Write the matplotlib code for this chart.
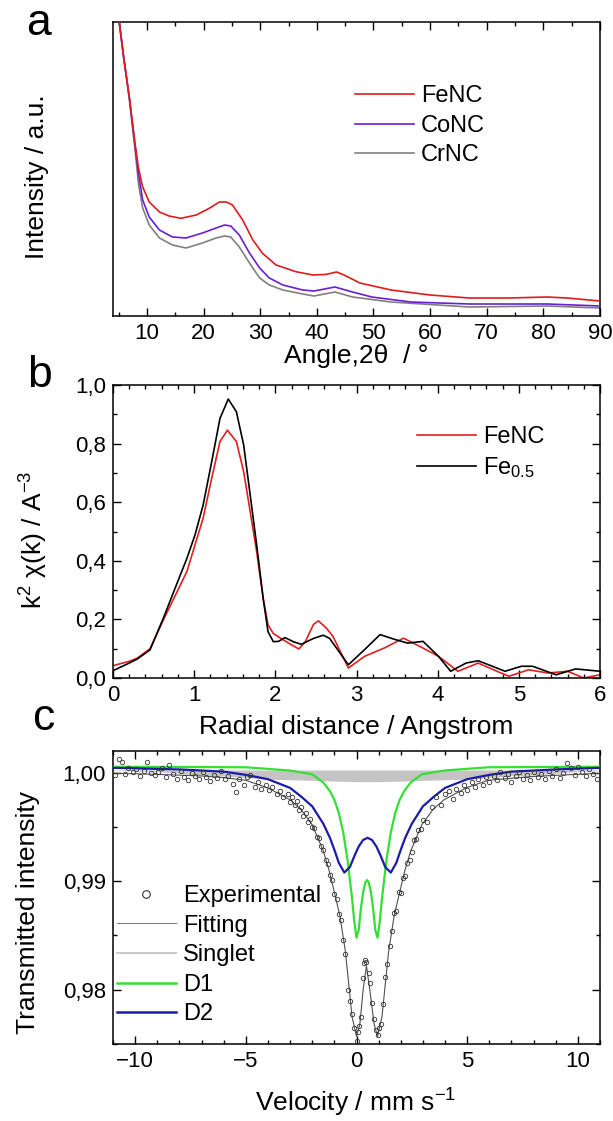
import numpy as np
import matplotlib
matplotlib.use('Agg')
import matplotlib.pyplot as plt
from matplotlib.lines import Line2D
from matplotlib.ticker import MultipleLocator, FixedLocator, FixedFormatter

plt.rcParams['font.family'] = ['Liberation Sans', 'DejaVu Sans']
plt.rcParams['mathtext.fontset'] = 'custom'
plt.rcParams['mathtext.rm'] = 'Liberation Sans'
plt.rcParams['mathtext.it'] = 'Liberation Sans:italic'

# ---- panel a: XRD (intensity in arbitrary units) ----
xrd_fe_angle = [4.5, 5.1, 5.9, 6.9, 7.9, 8.5, 9.24, 10.4, 12.2, 13.9, 16.0, 18.7, 21.0, 22.8, 24.0,
                25.1, 26.9, 28.7, 30.4, 32.8, 36.3, 39.3, 41.5, 43.5, 44.8, 47.6, 53.1, 60.0, 66.9,
                73.8, 80.7, 84.2, 90.0]
xrd_fe_int = [330, 294, 258, 218, 172, 148, 129, 114, 104, 100, 97.7, 101, 107.7, 114, 114,
              111, 96, 76, 62.7, 51, 44.3, 41, 41.5, 44, 41, 33, 26, 21, 18,
              18, 19, 18, 15]
xrd_co_angle = [4.5, 5.1, 5.9, 6.9, 7.9, 8.5, 9.24, 10.4, 12.2, 14.5, 16.9, 19.8, 22.2, 23.7, 24.8,
                26.3, 28.1, 29.9, 31.6, 34.0, 37.5, 39.5, 43.2, 46.3, 49.7, 56.6, 66.9, 80.7, 90.0]
xrd_co_int = [330, 294, 258, 218, 170, 142, 116, 99, 86, 79, 78, 83, 88, 91, 90,
              81, 63, 48, 38, 31, 26, 25, 29, 24, 19, 14, 12, 12, 10]
xrd_cr_angle = [4.5, 5.1, 5.9, 6.9, 7.9, 8.5, 9.24, 10.4, 12.2, 14.5, 16.9, 19.8, 22.2, 23.7, 24.8,
                26.3, 28.1, 29.9, 31.6, 34.0, 37.5, 39.5, 43.2, 46.3, 53.1, 66.9, 80.7, 90.0]
xrd_cr_int = [330, 294, 258, 216, 166, 132, 108, 91, 78, 71, 68, 73, 78, 80, 79,
              69, 53, 38, 31, 26, 22, 20, 24, 19, 14, 9, 10, 8]

# ---- panel b: EXAFS ----
exafs_fe_r = [0.0, 0.2, 0.3, 0.456, 0.62, 0.78, 0.91, 1.01, 1.11, 1.216, 1.318, 1.41, 1.52, 1.61,
              1.69, 1.77, 1.85, 1.91, 1.975, 2.08, 2.2, 2.29, 2.37, 2.47, 2.53, 2.63, 2.71, 2.9,
              3.1, 3.34, 3.58, 3.82, 4.01, 4.25, 4.5, 4.78, 4.88, 5.12, 5.36, 5.6, 5.8, 6.0]
exafs_fe_k2 = [0.042, 0.057, 0.068, 0.100, 0.198, 0.289, 0.363, 0.454, 0.545, 0.682, 0.807, 0.846,
               0.807, 0.704, 0.568, 0.431, 0.272, 0.181, 0.152, 0.133, 0.113, 0.099, 0.124, 0.183,
               0.195, 0.170, 0.142, 0.034, 0.074, 0.102, 0.136, 0.102, 0.074, 0.023, 0.051, 0.017,
               0.006, 0.028, 0.017, 0.023, 0.0, 0.011]
exafs_ref_r = [0.0, 0.2, 0.3, 0.456, 0.62, 0.78, 0.91, 1.01, 1.11, 1.216, 1.318, 1.42, 1.52, 1.61,
               1.69, 1.77, 1.85, 1.91, 1.975, 2.04, 2.12, 2.22, 2.32, 2.47, 2.59, 2.67, 2.71, 2.9,
               3.1, 3.29, 3.48, 3.63, 3.82, 4.01, 4.16, 4.35, 4.5, 4.83, 5.03, 5.17, 5.46, 5.7, 6.0]
exafs_ref_k2 = [0.025, 0.051, 0.065, 0.096, 0.204, 0.317, 0.408, 0.488, 0.590, 0.738, 0.886, 0.952,
                0.909, 0.795, 0.625, 0.454, 0.272, 0.158, 0.124, 0.125, 0.138, 0.124, 0.115, 0.135,
                0.146, 0.135, 0.119, 0.045, 0.097, 0.148, 0.131, 0.119, 0.125, 0.074, 0.023, 0.051,
                0.059, 0.023, 0.040, 0.040, 0.011, 0.031, 0.023]

# ---- panel c: Moessbauer ----
exp_v = [-10.9, -10.75, -10.6, -10.45, -10.3, -10.1, -9.95, -9.8, -9.6, -9.45, -9.3, -9.1, -8.95, -8.8,
         -8.6, -8.45, -8.3, -8.1, -7.95, -7.8, -7.6, -7.45, -7.3, -7.1, -6.95, -6.8, -6.6, -6.45, -6.3,
         -6.1, -5.95, -5.8, -5.6, -5.45, -5.3, -5.1, -4.95, -4.8, -4.6, -4.45, -4.3, -4.1, -3.95, -3.8,
         -3.6, -3.45, -3.3, -3.1,
         -3.0, -2.9, -2.8, -2.7, -2.6, -2.5, -2.4, -2.3, -2.2, -2.1, -2.0, -1.9, -1.8, -1.7, -1.6,
         -1.5, -1.4, -1.3, -1.2, -1.1, -1.0, -0.9, -0.8, -0.7, -0.6, -0.5, -0.4, -0.3, -0.2, -0.1,
         0.0, 0.05, 0.1, 0.2, 0.3, 0.35, 0.4, 0.45, 0.55, 0.6, 0.7, 0.8, 0.9, 0.95, 1.0, 1.1, 1.2,
         1.3, 1.4, 1.5, 1.6, 1.7, 1.8, 1.9, 2.0, 2.1, 2.2, 2.3, 2.4, 2.5, 2.6, 2.7, 2.8, 2.9, 3.0,
         3.2, 3.4, 3.6, 3.8, 4.0,
         4.2, 4.35, 4.5, 4.7, 4.85, 5.0, 5.2, 5.35, 5.5, 5.7, 5.85, 6.0, 6.2, 6.35, 6.5, 6.7, 6.85,
         7.0, 7.2, 7.35, 7.5, 7.7, 7.85, 8.0, 8.2, 8.35, 8.5, 8.7, 8.85, 9.0, 9.2, 9.35, 9.5, 9.7,
         9.85, 10.0, 10.2, 10.35, 10.5, 10.7, 10.85]
exp_t = [0.9998, 1.0013, 1.0010, 0.9999, 1.0004, 1.0001, 1.0003, 0.9997, 1.0002, 1.0010, 1.0000,
         0.9998, 1.0001, 1.0004, 0.9996, 1.0007, 0.9999, 0.9994, 1.0002, 0.9996, 0.9993, 1.0000,
         0.9997, 0.9994, 1.0001, 0.9996, 0.9992, 0.9998, 0.9995, 1.0002, 0.9994, 0.9997, 0.9990,
         0.9982, 0.9994, 0.9989, 0.9996, 0.9998, 0.9987, 0.9991, 0.9985, 0.9989, 0.9984, 0.9987,
         0.9980, 0.9983, 0.9978, 0.9980,
         0.9973, 0.9978, 0.9970, 0.9974, 0.9966, 0.9968, 0.9960, 0.9963, 0.9955, 0.9957, 0.9950,
         0.9949, 0.9941, 0.9940, 0.9932, 0.9929, 0.9920, 0.9916, 0.9906, 0.9901, 0.9888, 0.9884,
         0.9870, 0.9864, 0.9846, 0.9833, 0.9800, 0.9790, 0.9778, 0.9765,
         0.9753, 0.9761, 0.9767, 0.9775, 0.9811, 0.9825, 0.9827, 0.9826, 0.9815, 0.9806, 0.9788,
         0.9773, 0.9763, 0.9758, 0.9765, 0.9768, 0.9787,
         0.9812, 0.9824, 0.9840, 0.9854, 0.9871, 0.9873, 0.9890, 0.9889, 0.9903, 0.9905, 0.9917,
         0.9920, 0.9927, 0.9938, 0.9939, 0.9947, 0.9948, 0.9956,
         0.9955, 0.9968, 0.9978, 0.9970, 0.9980,
         0.9983, 0.9976, 0.9985, 0.9981, 0.9989, 0.9984, 0.9991, 0.9987, 0.9994, 0.9989, 0.9996,
         0.9991, 0.9997, 0.9993, 1.0001, 0.9995, 0.9999, 0.9991, 0.9997, 1.0001, 0.9994, 0.9998,
         0.9993, 1.0001, 0.9996, 0.9999, 0.9994, 1.0002, 0.9997, 1.0003, 0.9995, 1.0000, 1.0009,
         1.0004, 0.9998, 1.0005, 1.0001, 0.9997, 1.0003, 0.9999, 0.9994]

fit_v = [-11, -9, -7, -6, -5, -4, -3, -2.5, -2, -1.5, -1.25, -1.0, -0.75, -0.5, -0.35, -0.2, 0.0,
         0.15, 0.3, 0.45, 0.6, 0.8, 0.95, 1.15, 1.3, 1.45, 1.7, 1.95, 2.2, 2.45, 2.95, 3.45, 3.95,
         4.95, 5.95, 7.95, 9.95, 11]
fit_t = [0.99995, 0.99985, 0.9997, 0.99955, 0.9993, 0.9986, 0.9975, 0.9966, 0.9952, 0.9928, 0.9911,
         0.9890, 0.9868, 0.9835, 0.9805, 0.9775, 0.9757, 0.9768, 0.9800, 0.9822, 0.9800, 0.9768,
         0.9757, 0.9775, 0.9805, 0.9835, 0.9868, 0.9890, 0.9911, 0.9928, 0.9952, 0.9966, 0.9975,
         0.9986, 0.9993, 0.99965, 0.99985, 0.99995]

d1_v = [-11, -5, -3, -2, -1.5, -1.2, -1.0, -0.8, -0.6, -0.4, -0.2, -0.1, 0.0, 0.1, 0.2, 0.3, 0.4,
        0.475, 0.55, 0.65, 0.75, 0.85, 0.95, 1.05, 1.15, 1.35, 1.55, 1.75, 1.95, 2.15, 2.45, 2.95,
        3.95, 5.95, 11]
d1_t = [1.00055, 1.0005, 1.0002, 0.99985, 0.9991, 0.9983, 0.9975, 0.9963, 0.9945, 0.9919, 0.9884,
        0.9863, 0.9848, 0.9855, 0.9875, 0.9890, 0.9899, 0.9901, 0.9899, 0.9890, 0.9875, 0.9855,
        0.9848, 0.9863, 0.9884, 0.9919, 0.9945, 0.9963, 0.9975, 0.9983, 0.9991, 0.99985, 1.0002,
        1.0005, 1.00055]

d2_v = [-11, -8, -6, -5, -4, -3, -2.5, -2, -1.5, -1.2, -1.0, -0.8, -0.55, -0.3, -0.1, 0.1, 0.3,
        0.5, 0.7, 0.9, 1.1, 1.3, 1.55, 1.8, 2.0, 2.2, 2.5, 3.0, 3.5, 4.0, 5.0, 6.0, 7.0, 9.0, 11]
d2_t = [1.00045, 1.0003, 1.0001, 0.9998, 0.9994, 0.9986, 0.9978, 0.9969, 0.9953, 0.9940, 0.9929,
        0.9917, 0.9908, 0.9913, 0.9923, 0.9932, 0.9938, 0.9940, 0.9938, 0.9932, 0.9923, 0.9913,
        0.9908, 0.9917, 0.9929, 0.9940, 0.9953, 0.9969, 0.9978, 0.9986, 0.9994, 0.9998, 1.0001,
        1.0003, 1.00045]

singlet_v = [-11, -9, -7, -6, -5, -4, -3, -2, -1, 0, 0.5, 1, 2, 3, 4, 5, 6, 7, 8, 10, 11]
singlet_t = [1.0002, 1.0001, 0.9998, 0.9997, 0.99955, 0.9994, 0.99935, 0.9993, 0.99922, 0.99918,
             0.99917, 0.99918, 0.99922, 0.9993, 0.99935, 0.9994, 0.99955, 0.9997, 0.9998, 1.0001,
             1.0002]
singlet_top = 1.00025

W, H = 613, 1121
TICK_FS = 16
LABEL_FS = 19
LEG_FS = 17


def px_axes(fig, left, top, right, bottom):
    return fig.add_axes([left / W, 1 - bottom / H, (right - left) / W, (bottom - top) / H])


def px_text(fig, x, y, s, **kw):
    fig.text(x / W, 1 - y / H, s, **kw)


def style_axes(ax, left_right=True):
    for sp in ax.spines.values():
        sp.set_linewidth(1.1)
    ax.tick_params(which='both', direction='in', top=True, right=left_right, left=left_right,
                   labelsize=TICK_FS, width=1.0, pad=5)
    ax.tick_params(which='major', length=6)
    ax.tick_params(which='minor', length=3)


def add_legend(ax, handles, labels, anchor):
    ax.legend(handles, labels, loc='upper left', bbox_to_anchor=anchor, frameon=False,
              fontsize=LEG_FS, handlelength=2.5, handletextpad=0.3, labelspacing=0.32,
              borderpad=0, borderaxespad=0)


fig = plt.figure(figsize=(W / 100, H / 100), dpi=100)

# panel a
ax_a = px_axes(fig, 113, 22, 600, 316)
ax_a.plot(xrd_cr_angle, xrd_cr_int, color='#808080', lw=1.2, zorder=2)
ax_a.plot(xrd_co_angle, xrd_co_int, color='#6a1fd6', lw=1.2, zorder=3)
ax_a.plot(xrd_fe_angle, xrd_fe_int, color='#e01b1b', lw=1.2, zorder=4)
ax_a.set_xlim(4, 90)
ax_a.set_ylim(0, 294)
ax_a.xaxis.set_major_locator(MultipleLocator(10))
ax_a.xaxis.set_minor_locator(MultipleLocator(5))
ax_a.set_yticks([])
style_axes(ax_a, left_right=False)
a_handles = [Line2D([], [], color=c, lw=1.2) for c in ['#e01b1b', '#6a1fd6', '#808080']]
add_legend(ax_a, a_handles, ['FeNC', 'CoNC', 'CrNC'], (0.496, 0.785))

# panel b
ax_b = px_axes(fig, 113, 385, 600, 678)
ax_b.plot(exafs_fe_r, exafs_fe_k2, color='#e02020', lw=1.2)
ax_b.plot(exafs_ref_r, exafs_ref_k2, color='black', lw=1.2)
ax_b.set_xlim(0, 6)
ax_b.set_ylim(0, 1.0)
ax_b.xaxis.set_major_locator(MultipleLocator(1))
ax_b.xaxis.set_minor_locator(MultipleLocator(0.2))
b_ticks = [0.0, 0.2, 0.4, 0.6, 0.8, 1.0]
ax_b.yaxis.set_major_locator(FixedLocator(b_ticks))
ax_b.yaxis.set_major_formatter(FixedFormatter([f'{t:.1f}'.replace('.', ',') for t in b_ticks]))
ax_b.yaxis.set_minor_locator(MultipleLocator(0.1))
style_axes(ax_b)
b_handles = [Line2D([], [], color=c, lw=1.2) for c in ['#e02020', 'black']]
add_legend(ax_b, b_handles, ['FeNC', 'Fe$_{0.5}$'], (0.624, 0.86))

# panel c
ax_c = px_axes(fig, 113, 751, 600, 1044)
ax_c.fill_between(singlet_v, singlet_t, singlet_top, color='#c4c4c4', lw=0, zorder=1)
ax_c.plot(d1_v, d1_t, color='#33e033', lw=1.6, zorder=3)
ax_c.plot(d2_v, d2_t, color='#1c1ca8', lw=1.6, zorder=3)
ax_c.plot(fit_v, fit_t, color='#505050', lw=0.8, zorder=4)
ax_c.plot(exp_v, exp_t, 'o', ms=3.2, mfc='none', mec='#333333', mew=0.6, zorder=5)
ax_c.set_xlim(-11, 11)
ax_c.set_ylim(0.975, 1.002)
ax_c.xaxis.set_major_locator(MultipleLocator(5))
ax_c.xaxis.set_minor_locator(MultipleLocator(1))
c_ticks = [0.98, 0.99, 1.00]
ax_c.yaxis.set_major_locator(FixedLocator(c_ticks))
ax_c.yaxis.set_major_formatter(FixedFormatter([f'{t:.2f}'.replace('.', ',') for t in c_ticks]))
ax_c.yaxis.set_minor_locator(MultipleLocator(0.005))
style_axes(ax_c)
c_handles = [
    Line2D([], [], ls='none', marker='o', ms=5.5, mfc='none', mec='#333333', mew=0.8),
    Line2D([], [], color='#808080', lw=0.8),
    Line2D([], [], color='#c8c8c8', lw=1.4),
    Line2D([], [], color='#33e033', lw=1.8),
    Line2D([], [], color='#1c1ca8', lw=1.8),
]
add_legend(ax_c, c_handles, ['Experimental', 'Fitting', 'Singlet', 'D1', 'D2'], (0.008, 0.542))

# axis labels and panel letters
px_text(fig, 37, 177, 'Intensity / a.u.', rotation=90, ha='center', va='center', fontsize=LABEL_FS)
px_text(fig, 356, 356, 'Angle,2θ  / °', ha='center', va='center', fontsize=LABEL_FS)
px_text(fig, 34, 540, 'k$^2$ χ(k) / A$^{-3}$', rotation=90, ha='center', va='center', fontsize=LABEL_FS)
px_text(fig, 356, 727, 'Radial distance / Angstrom', ha='center', va='center', fontsize=LABEL_FS)
px_text(fig, 28, 912, 'Transmitted intensity', rotation=90, ha='center', va='center', fontsize=LABEL_FS)
px_text(fig, 356, 1103, 'Velocity / mm s$^{-1}$', ha='center', va='center', fontsize=LABEL_FS)

px_text(fig, 39, 35, 'a', ha='center', va='baseline', fontsize=32)
px_text(fig, 40, 387, 'b', ha='center', va='baseline', fontsize=32)
px_text(fig, 43, 730, 'c', ha='center', va='baseline', fontsize=32)

plt.savefig('out.png', dpi=100)
plt.close()
